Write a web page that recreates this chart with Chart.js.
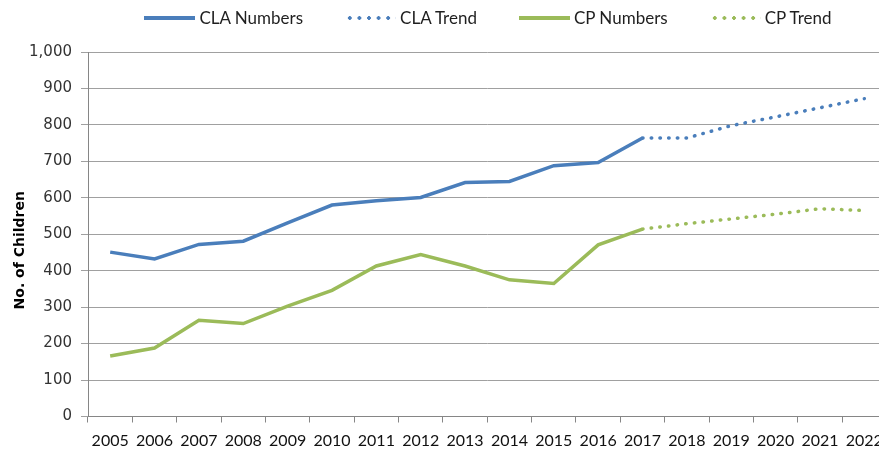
<!DOCTYPE html>
<html>
<head>
<meta charset="utf-8">
<script src="https://cdn.jsdelivr.net/npm/chart.js@4.4.1/dist/chart.umd.min.js"></script>
<style>
  body { margin: 0; background: #fff; }
  #wrap { position: relative; width: 879px; height: 451px; overflow: hidden; }
  #legend {
    position: absolute; top: 7px; left: 88px; width: 800px;
    display: flex; justify-content: center; gap: 42px;
    font: 17px Lato, sans-serif; color: #1f1f1f;
  }
  .item { display: flex; align-items: center; gap: 4px; line-height: 22px; }
  .swatch { width: 51px; height: 4px; }
</style>
</head>
<body>
<div id="wrap">
  <div id="legend"></div>
  <canvas id="childrenChart" width="892" height="451"></canvas>
</div>
<script>
const years = ["2005", "2006", "2007", "2008", "2009", "2010", "2011", "2012", "2013",
  "2014", "2015", "2016", "2017", "2018", "2019", "2020", "2021", "2022"];

const claNumbers = [451, 432, 472, 481, 531, 580, 592, 601, 642, 645, 688, 697, 764,
  null, null, null, null, null];
const claTrend = [null, null, null, null, null, null, null, null, null, null, null, null, 764,
  764, 798, 822, 847, 872];

const cpNumbers = [166, 188, 264, 255, 303, 346, 413, 444, 413, 375, 365, 471, 514,
  null, null, null, null, null];
const cpTrend = [null, null, null, null, null, null, null, null, null, null, null, null, 514,
  529, 542, 555, 570, 565];

const yTitleText = "No. of Children";

const blue = "#4a7ebb";
const green = "#9bbb59";

const solid = (label, data, color) => ({
  label, data, borderColor: color, backgroundColor: color,
  borderWidth: 3.5, pointRadius: 0, tension: 0,
});

const dotted = (label, data, color) => ({
  ...solid(label, data, color),
  borderDash: [0.5, 8.2],
  borderCapStyle: "round",
});

const data = {
  labels: years,
  datasets: [
    solid("CLA Numbers", claNumbers, blue),
    dotted("CLA Trend", claTrend, blue),
    solid("CP Numbers", cpNumbers, green),
    dotted("CP Trend", cpTrend, green),
  ],
};

// axis title sits a bit below the middle of the axis, as in excel
const yTitle = {
  id: "yTitle",
  afterDraw(chart) {
    const { ctx, chartArea } = chart;
    ctx.save();
    ctx.translate(20, (chartArea.top + chartArea.bottom) / 2 + 16);
    ctx.rotate(-Math.PI / 2);
    ctx.font = "bold 14px 'DejaVu Sans'";
    ctx.fillStyle = "#000";
    ctx.textAlign = "center";
    ctx.textBaseline = "middle";
    ctx.fillText(yTitleText, 0, 0);
    ctx.restore();
  },
};

const options = {
  responsive: false,
  animation: false,
  layout: { padding: { top: 52, right: 4 } },
  plugins: {
    legend: { display: false },
    tooltip: { enabled: false },
  },
  scales: {
    x: {
      offset: true,
      grid: { offset: true, drawOnChartArea: false, tickLength: 6, color: "#868686" },
      border: { color: "#868686" },
      ticks: {
        font: { family: "Lato", size: 16 },
        color: "#111",
        padding: 9,
        maxRotation: 0,
        autoSkip: false,
      },
      afterFit: (scale) => { scale.height = 34.5; },
    },
    y: {
      min: 0,
      max: 1000,
      ticks: {
        stepSize: 100,
        font: { family: "DejaVu Sans", size: 15 },
        color: "#333",
        padding: 9,
      },
      grid: { color: "#a0a0a0", tickLength: 7 },
      border: { color: "#868686" },
      afterFit: (scale) => { scale.width = 88; },
    },
  },
};

const chart = new Chart("childrenChart", { type: "line", data, options, plugins: [yTitle] });

// legend drawn as html so the item spacing matches the original
const legend = document.getElementById("legend");
chart.data.datasets.forEach((ds) => {
  const item = document.createElement("div");
  item.className = "item";
  const swatch = document.createElement("span");
  swatch.className = "swatch";
  if (ds.borderDash) {
    swatch.style.background =
      `radial-gradient(circle, ${ds.borderColor} 1.6px, transparent 2.1px) 0 0 / 9.6px 4px repeat-x`;
  } else {
    swatch.style.background = ds.borderColor;
  }
  const text = document.createElement("span");
  text.textContent = ds.label;
  item.append(swatch, text);
  legend.append(item);
});
</script>
</body>
</html>
